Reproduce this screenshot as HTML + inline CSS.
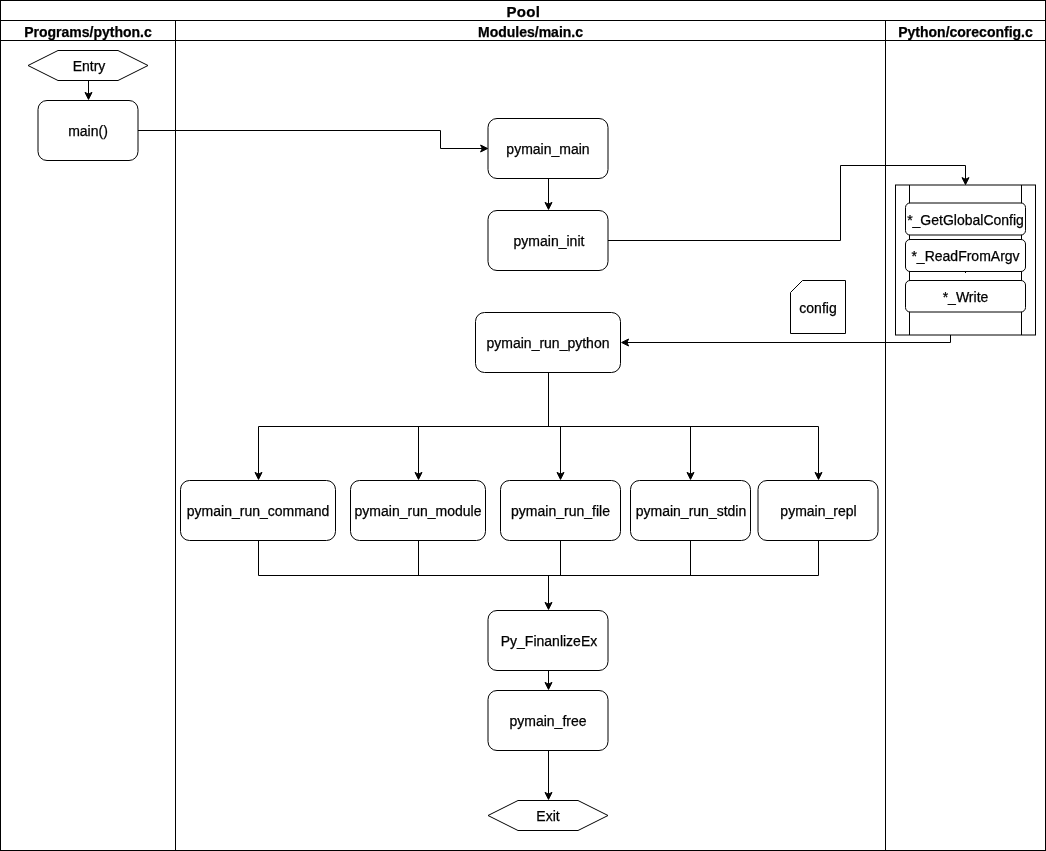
<!DOCTYPE html>
<html><head><meta charset="utf-8"><style>
html,body{margin:0;padding:0;background:#fff;}
body{width:1046px;height:851px;overflow:hidden;}
svg{display:block;will-change:transform;}
text{font-family:"Liberation Sans",sans-serif;fill:#000;stroke:#000;stroke-width:0.25px;}
</style></head><body>
<svg width="1046" height="851" viewBox="0 0 1046 851">
<rect x="0.5" y="0.5" width="1045" height="850" fill="#fff" stroke="#000" stroke-width="1"/>
<path d="M0 20.5 L1046 20.5" stroke="#000" stroke-width="1" fill="none" stroke-miterlimit="10"/>
<path d="M0 40.5 L1046 40.5" stroke="#000" stroke-width="1" fill="none" stroke-miterlimit="10"/>
<path d="M175.5 20 L175.5 851" stroke="#000" stroke-width="1" fill="none" stroke-miterlimit="10"/>
<path d="M885.5 20 L885.5 851" stroke="#000" stroke-width="1" fill="none" stroke-miterlimit="10"/>
<text x="523.4" y="16.8" font-size="15" font-weight="bold" text-anchor="middle" letter-spacing="0.3">Pool</text>
<text x="88" y="37" font-size="14" font-weight="bold" text-anchor="middle">Programs/python.c</text>
<text x="530.5" y="37" font-size="14" font-weight="bold" text-anchor="middle">Modules/main.c</text>
<text x="965.5" y="37" font-size="14" font-weight="bold" text-anchor="middle">Python/coreconfig.c</text>
<path d="M28 65.5 L58 50.5 L118 50.5 L148 65.5 L118 80.5 L58 80.5Z" fill="#fff" stroke="#000" stroke-width="1" stroke-miterlimit="10"/>
<text x="89" y="70.5" font-size="14" text-anchor="middle">Entry</text>
<path d="M88.5 80.5 L88.5 94.132" stroke="#000" stroke-width="1" fill="none" stroke-miterlimit="10"/>
<path d="M88.5 99.382 L85 92.382 L88.5 94.132 L92 92.382Z" fill="#000" stroke="#000" stroke-width="1" stroke-miterlimit="10"/>
<rect x="38" y="100.5" width="100" height="60" rx="9" ry="9" fill="#fff" stroke="#000" stroke-width="1"/>
<text x="88" y="135.5" font-size="14" text-anchor="middle">main()</text>
<path d="M138 130.5 L440.5 130.5 L440.5 148.5 L482.332 148.5" stroke="#000" stroke-width="1" fill="none" stroke-miterlimit="10"/>
<path d="M487.582 148.5 L480.582 145 L482.332 148.5 L480.582 152Z" fill="#000" stroke="#000" stroke-width="1" stroke-miterlimit="10"/>
<rect x="488" y="118.5" width="120" height="60" rx="9" ry="9" fill="#fff" stroke="#000" stroke-width="1"/>
<text x="548" y="153.5" font-size="14" text-anchor="middle">pymain_main</text>
<path d="M548.5 178.5 L548.5 204.132" stroke="#000" stroke-width="1" fill="none" stroke-miterlimit="10"/>
<path d="M548.5 209.382 L545 202.382 L548.5 204.132 L552 202.382Z" fill="#000" stroke="#000" stroke-width="1" stroke-miterlimit="10"/>
<rect x="488" y="210.5" width="120" height="60" rx="9" ry="9" fill="#fff" stroke="#000" stroke-width="1"/>
<text x="549" y="245.5" font-size="14" text-anchor="middle">pymain_init</text>
<path d="M608 240.5 L840.5 240.5 L840.5 165.5 L965.5 165.5 L965.5 179.332" stroke="#000" stroke-width="1" fill="none" stroke-miterlimit="10"/>
<path d="M965.5 184.582 L962 177.582 L965.5 179.332 L969 177.582Z" fill="#000" stroke="#000" stroke-width="1" stroke-miterlimit="10"/>
<rect x="895.5" y="185" width="140" height="150" fill="#fff" stroke="#000" stroke-width="1"/>
<path d="M909.5 185 L909.5 335" stroke="#000" stroke-width="1" fill="none" stroke-miterlimit="10"/>
<path d="M1021.5 185 L1021.5 335" stroke="#000" stroke-width="1" fill="none" stroke-miterlimit="10"/>
<path d="M965.5 271.5 L965.5 273" stroke="#000" stroke-width="1" fill="none" stroke-miterlimit="10"/>
<rect x="905.5" y="203" width="120" height="32" rx="4.5" ry="4.5" fill="#fff" stroke="#000" stroke-width="1"/>
<text x="965.5" y="225" font-size="14" text-anchor="middle">*_GetGlobalConfig</text>
<rect x="905.5" y="239.5" width="120" height="32" rx="4.5" ry="4.5" fill="#fff" stroke="#000" stroke-width="1"/>
<text x="965.5" y="261" font-size="14" text-anchor="middle">*_ReadFromArgv</text>
<rect x="905.5" y="280.5" width="120" height="31.5" rx="4.5" ry="4.5" fill="#fff" stroke="#000" stroke-width="1"/>
<text x="965.5" y="302" font-size="14" text-anchor="middle">*_Write</text>
<path d="M790.5 292.5 L802.5 280.5 L845.5 280.5 L845.5 333.5 L790.5 333.5 Z" fill="#fff" stroke="#000" stroke-width="1"/>
<text x="818" y="313" font-size="14" text-anchor="middle">config</text>
<path d="M950.5 335 L950.5 342.5 L626.868 342.5" stroke="#000" stroke-width="1" fill="none" stroke-miterlimit="10"/>
<path d="M621.618 342.5 L628.618 339 L626.868 342.5 L628.618 346Z" fill="#000" stroke="#000" stroke-width="1" stroke-miterlimit="10"/>
<rect x="475.5" y="312.5" width="145" height="60" rx="9" ry="9" fill="#fff" stroke="#000" stroke-width="1"/>
<text x="548" y="347.5" font-size="14" text-anchor="middle">pymain_run_python</text>
<path d="M548.5 372.5 L548.5 426.5" stroke="#000" stroke-width="1" fill="none" stroke-miterlimit="10"/>
<path d="M258.5 426.5 L818.5 426.5" stroke="#000" stroke-width="1" fill="none" stroke-miterlimit="10"/>
<path d="M258.5 426.5 L258.5 474.132" stroke="#000" stroke-width="1" fill="none" stroke-miterlimit="10"/>
<path d="M258.5 479.382 L255 472.382 L258.5 474.132 L262 472.382Z" fill="#000" stroke="#000" stroke-width="1" stroke-miterlimit="10"/>
<rect x="180.5" y="480.5" width="155" height="60" rx="9" ry="9" fill="#fff" stroke="#000" stroke-width="1"/>
<text x="258" y="515.5" font-size="14" text-anchor="middle">pymain_run_command</text>
<path d="M258.5 540.5 L258.5 575.5" stroke="#000" stroke-width="1" fill="none" stroke-miterlimit="10"/>
<path d="M418.5 426.5 L418.5 474.132" stroke="#000" stroke-width="1" fill="none" stroke-miterlimit="10"/>
<path d="M418.5 479.382 L415 472.382 L418.5 474.132 L422 472.382Z" fill="#000" stroke="#000" stroke-width="1" stroke-miterlimit="10"/>
<rect x="350.5" y="480.5" width="135" height="60" rx="9" ry="9" fill="#fff" stroke="#000" stroke-width="1"/>
<text x="418" y="515.5" font-size="14" text-anchor="middle">pymain_run_module</text>
<path d="M418.5 540.5 L418.5 575.5" stroke="#000" stroke-width="1" fill="none" stroke-miterlimit="10"/>
<path d="M560.5 426.5 L560.5 474.132" stroke="#000" stroke-width="1" fill="none" stroke-miterlimit="10"/>
<path d="M560.5 479.382 L557 472.382 L560.5 474.132 L564 472.382Z" fill="#000" stroke="#000" stroke-width="1" stroke-miterlimit="10"/>
<rect x="500.5" y="480.5" width="120" height="60" rx="9" ry="9" fill="#fff" stroke="#000" stroke-width="1"/>
<text x="560.5" y="515.5" font-size="14" text-anchor="middle">pymain_run_file</text>
<path d="M560.5 540.5 L560.5 575.5" stroke="#000" stroke-width="1" fill="none" stroke-miterlimit="10"/>
<path d="M690.5 426.5 L690.5 474.132" stroke="#000" stroke-width="1" fill="none" stroke-miterlimit="10"/>
<path d="M690.5 479.382 L687 472.382 L690.5 474.132 L694 472.382Z" fill="#000" stroke="#000" stroke-width="1" stroke-miterlimit="10"/>
<rect x="630.5" y="480.5" width="120" height="60" rx="9" ry="9" fill="#fff" stroke="#000" stroke-width="1"/>
<text x="691" y="515.5" font-size="14" text-anchor="middle">pymain_run_stdin</text>
<path d="M690.5 540.5 L690.5 575.5" stroke="#000" stroke-width="1" fill="none" stroke-miterlimit="10"/>
<path d="M818.5 426.5 L818.5 474.132" stroke="#000" stroke-width="1" fill="none" stroke-miterlimit="10"/>
<path d="M818.5 479.382 L815 472.382 L818.5 474.132 L822 472.382Z" fill="#000" stroke="#000" stroke-width="1" stroke-miterlimit="10"/>
<rect x="758" y="480.5" width="120" height="60" rx="9" ry="9" fill="#fff" stroke="#000" stroke-width="1"/>
<text x="818.5" y="515.5" font-size="14" text-anchor="middle">pymain_repl</text>
<path d="M818.5 540.5 L818.5 575.5" stroke="#000" stroke-width="1" fill="none" stroke-miterlimit="10"/>
<path d="M258.5 575.5 L818.5 575.5" stroke="#000" stroke-width="1" fill="none" stroke-miterlimit="10"/>
<path d="M548.5 575.5 L548.5 604.132" stroke="#000" stroke-width="1" fill="none" stroke-miterlimit="10"/>
<path d="M548.5 609.382 L545 602.382 L548.5 604.132 L552 602.382Z" fill="#000" stroke="#000" stroke-width="1" stroke-miterlimit="10"/>
<rect x="488" y="610.5" width="120" height="60" rx="9" ry="9" fill="#fff" stroke="#000" stroke-width="1"/>
<text x="549" y="645.5" font-size="14" text-anchor="middle">Py_FinanlizeEx</text>
<path d="M548.5 670.5 L548.5 684.132" stroke="#000" stroke-width="1" fill="none" stroke-miterlimit="10"/>
<path d="M548.5 689.382 L545 682.382 L548.5 684.132 L552 682.382Z" fill="#000" stroke="#000" stroke-width="1" stroke-miterlimit="10"/>
<rect x="488" y="690.5" width="120" height="60" rx="9" ry="9" fill="#fff" stroke="#000" stroke-width="1"/>
<text x="548" y="725.5" font-size="14" text-anchor="middle">pymain_free</text>
<path d="M548.5 750.5 L548.5 794.132" stroke="#000" stroke-width="1" fill="none" stroke-miterlimit="10"/>
<path d="M548.5 799.382 L545 792.382 L548.5 794.132 L552 792.382Z" fill="#000" stroke="#000" stroke-width="1" stroke-miterlimit="10"/>
<path d="M488 815.5 L518 800.5 L578 800.5 L608 815.5 L578 830.5 L518 830.5Z" fill="#fff" stroke="#000" stroke-width="1" stroke-miterlimit="10"/>
<text x="548" y="820.5" font-size="14" text-anchor="middle">Exit</text>
</svg>
</body></html>
